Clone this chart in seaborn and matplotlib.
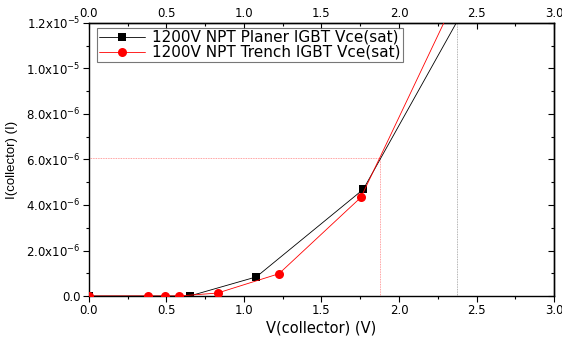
import matplotlib
matplotlib.use("Agg")
import matplotlib.pyplot as plt
import matplotlib.ticker as mticker
import numpy as np
import pandas as pd
import seaborn as sns

# Collector voltage (V) and current (A) for the two IGBT structures
planer_v = [0.0, 0.65, 1.08, 1.77, 2.50]
planer_i = [0.0, 0.0, 0.84e-6, 4.69e-6, 13.6e-6]
trench_v = [0.0, 0.38, 0.49, 0.58, 0.83, 1.226, 1.755, 2.40]
trench_i = [0.0, 0.0, 0.0, 0.0, 0.13e-6, 0.98e-6, 4.34e-6, 13.6e-6]

planer_label = "1200V NPT Planer IGBT Vce(sat)"
trench_label = "1200V NPT Trench IGBT Vce(sat)"

# Guide lines: crossing point and reference voltage
cross_v = 1.877
cross_i = 6.05e-6
ref_v = 2.375

x_ticks = [0.0, 0.5, 1.0, 1.5, 2.0, 2.5, 3.0]
y_ticks = [0.0, 2e-6, 4e-6, 6e-6, 8e-6, 1.0e-5, 1.2e-5]

planer = pd.DataFrame({"V": planer_v, "I": planer_i})
trench = pd.DataFrame({"V": trench_v, "I": trench_i})

sns.set_theme(style="white")
plt.rcParams["font.family"] = ["DejaVu Sans"]
plt.rcParams["mathtext.fontset"] = "dejavusans"
for key in ("text.color", "axes.labelcolor", "xtick.color", "ytick.color"):
    plt.rcParams[key] = "#000000"

fig = plt.figure(figsize=(5.62, 3.43), dpi=100)
ax = fig.add_axes([0.158, 0.137, 0.828, 0.796])

sns.lineplot(data=planer, x="V", y="I", ax=ax, color="#000000", linewidth=0.6,
             marker="s", markersize=6, markeredgewidth=0, label=planer_label,
             sort=False, zorder=2)
sns.lineplot(data=trench, x="V", y="I", ax=ax, color="#ff0000", linewidth=0.6,
             marker="o", markersize=6.5, markeredgewidth=0, label=trench_label,
             sort=False, zorder=3)

# dotted guides
ax.plot([0, cross_v], [cross_i, cross_i], color="#ff8080", lw=0.6, ls=(0, (1, 1)), zorder=1)
ax.plot([cross_v, cross_v], [0, cross_i], color="#ff8080", lw=0.6, ls=(0, (1, 1)), zorder=1)
ax.plot([ref_v, ref_v], [0, 1.2e-5], color="#999999", lw=0.6, ls=(0, (1, 1)), zorder=1)

ax.set_xlim(0, 3.0)
ax.set_ylim(0, 1.2e-5)


def sci_fmt(val, pos):
    if val == 0:
        return "0.0"
    exp = int(np.floor(np.log10(abs(val))))
    mant = val / 10 ** exp
    return r"%.1fx10$^{%d}$" % (mant, exp)


ax.xaxis.set_major_locator(mticker.FixedLocator(x_ticks))
ax.xaxis.set_minor_locator(mticker.MultipleLocator(0.25))
ax.xaxis.set_major_formatter(mticker.FormatStrFormatter("%.1f"))
ax.yaxis.set_major_locator(mticker.FixedLocator(y_ticks))
ax.yaxis.set_minor_locator(mticker.MultipleLocator(1e-6))
ax.yaxis.set_major_formatter(mticker.FuncFormatter(sci_fmt))

ax.tick_params(axis="both", which="major", direction="out", length=4, width=0.8,
               labelsize=8.5, color="#000000", pad=2)
ax.tick_params(axis="both", which="minor", direction="out", length=2.5, width=0.8,
               color="#000000")
ax.tick_params(bottom=True, left=True, which="both")

for s in ax.spines.values():
    s.set_linewidth(1.0)
    s.set_color("#000000")

# top and right axes with inward ticks
top = ax.secondary_xaxis("top")
top.xaxis.set_major_locator(mticker.FixedLocator(x_ticks))
top.xaxis.set_minor_locator(mticker.MultipleLocator(0.25))
top.xaxis.set_major_formatter(mticker.FormatStrFormatter("%.1f"))
top.tick_params(which="major", direction="in", length=4, width=0.8, labelsize=8.5, pad=2)
top.tick_params(which="minor", direction="in", length=2.5, width=0.8)
top.spines["top"].set_linewidth(1.0)

right = ax.secondary_yaxis("right")
right.yaxis.set_major_locator(mticker.FixedLocator(y_ticks))
right.yaxis.set_minor_locator(mticker.MultipleLocator(1e-6))
right.tick_params(which="major", direction="in", length=4, width=0.8, labelright=False)
right.tick_params(which="minor", direction="in", length=2.5, width=0.8)
right.spines["right"].set_linewidth(1.0)

ax.set_xlabel("V(collector) (V)", fontsize=10.5, labelpad=2)
ax.set_ylabel("I(collector) (I)", fontsize=9.5, labelpad=6, family="Liberation Sans")

leg = ax.legend(loc="upper left", bbox_to_anchor=(0.017, 0.983), fontsize=11,
                frameon=True, fancybox=False, edgecolor="#555555",
                handlelength=3.0, handletextpad=0.5, borderpad=0.15,
                labelspacing=0.0, borderaxespad=0.0)
leg.get_frame().set_linewidth(0.8)

fig.savefig("out.png", dpi=100)
